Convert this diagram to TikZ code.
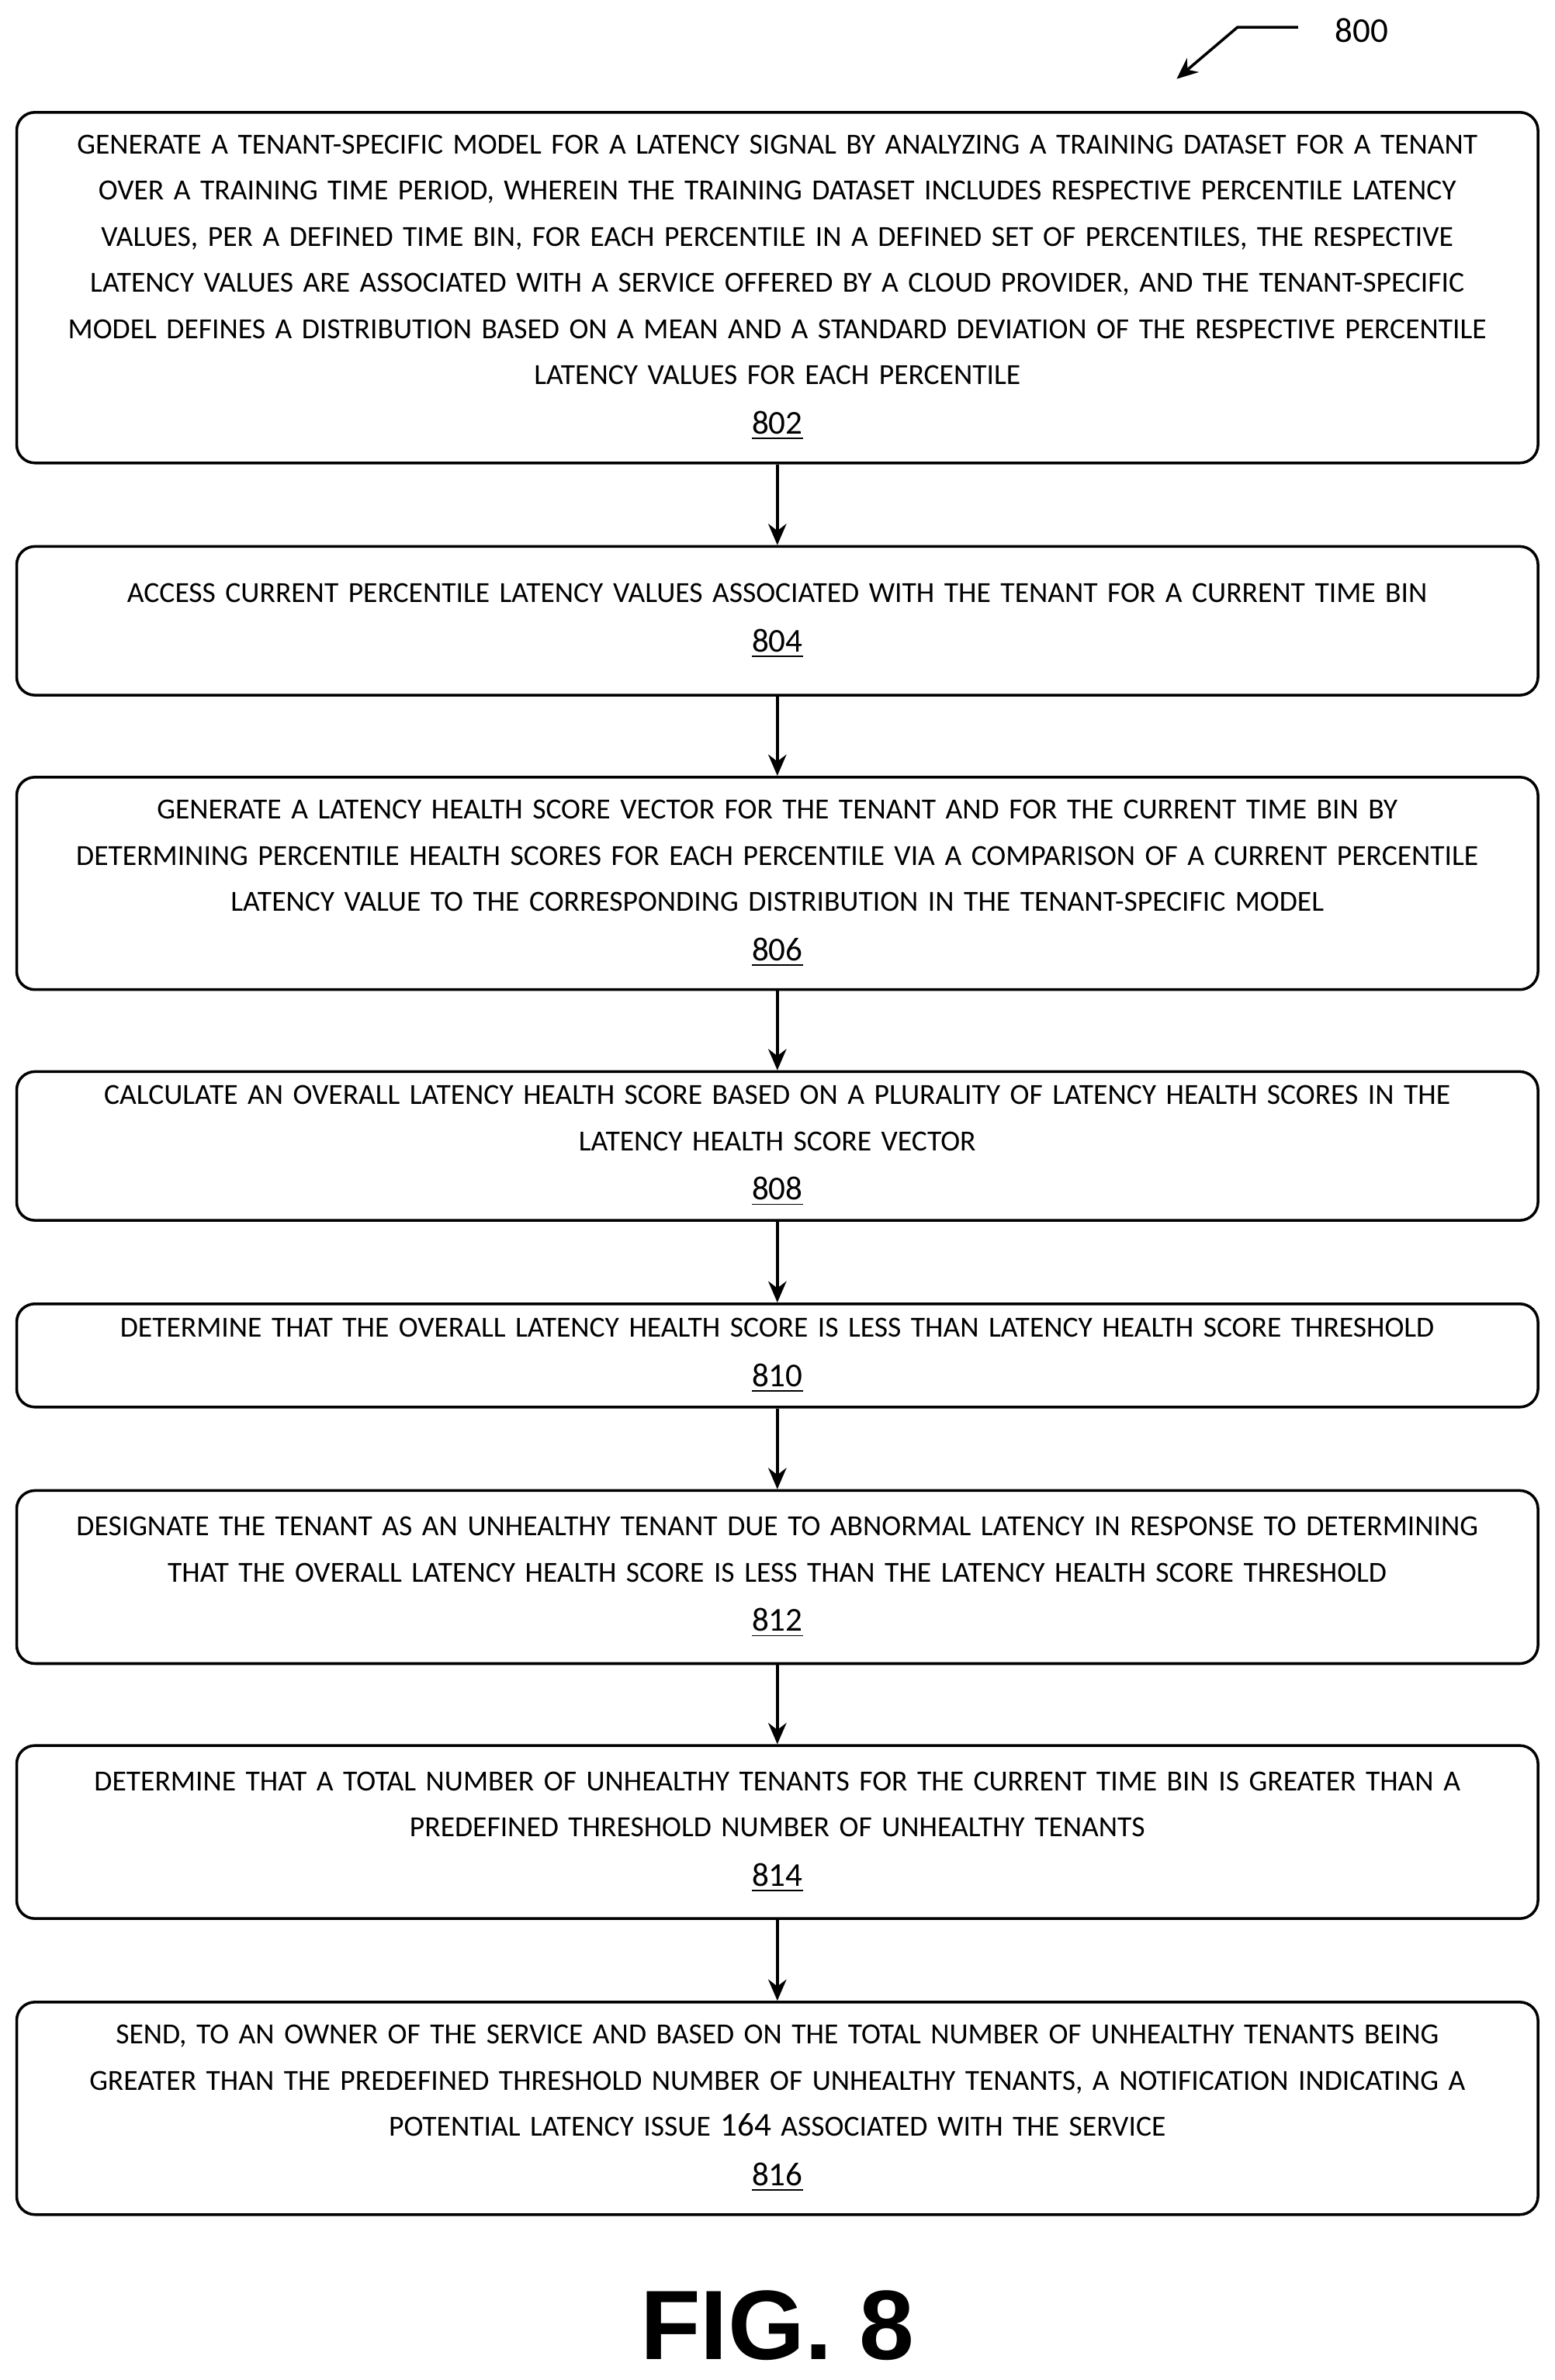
\documentclass[tikz,border=0pt]{standalone}
\usepackage{fontspec}
\setmainfont{Carlito}
\newfontfamily\figfont{Liberation Sans}
\usetikzlibrary{arrows.meta}
\newcommand{\lbl}[1]{\\[1pt]{\fontsize{11}{15}\selectfont\underline{#1}}}
\begin{document}
\begin{tikzpicture}[x=0.5pt,y=-0.5pt,
 box/.style={draw,line width=0.9pt,rounded corners=6pt,minimum width=501pt,text width=500pt,align=center,inner sep=0pt,font=\fontsize{9.6}{15.2}\selectfont},
 arr/.style={-{Stealth[length=7pt,width=6pt]},line width=0.9pt}]
\useasboundingbox (0,0) rectangle (1024,1568);
\node[box,minimum height=115.5pt] (b802) at (512,189.5) {GENERATE A TENANT-SPECIFIC MODEL FOR A LATENCY SIGNAL BY ANALYZING A TRAINING DATASET FOR A TENANT\\OVER A TRAINING TIME PERIOD, WHEREIN THE TRAINING DATASET INCLUDES RESPECTIVE PERCENTILE LATENCY\\VALUES, PER A DEFINED TIME BIN, FOR EACH PERCENTILE IN A DEFINED SET OF PERCENTILES, THE RESPECTIVE\\LATENCY VALUES ARE ASSOCIATED WITH A SERVICE OFFERED BY A CLOUD PROVIDER, AND THE TENANT-SPECIFIC\\MODEL DEFINES A DISTRIBUTION BASED ON A MEAN AND A STANDARD DEVIATION OF THE RESPECTIVE PERCENTILE\\LATENCY VALUES FOR EACH PERCENTILE\lbl{802}};
\node[box,minimum height=49pt] (b804) at (512,409) {ACCESS CURRENT PERCENTILE LATENCY VALUES ASSOCIATED WITH THE TENANT FOR A CURRENT TIME BIN\lbl{804}};
\node[box,minimum height=70pt] (b806) at (512,582) {GENERATE A LATENCY HEALTH SCORE VECTOR FOR THE TENANT AND FOR THE CURRENT TIME BIN BY\\DETERMINING PERCENTILE HEALTH SCORES FOR EACH PERCENTILE VIA A COMPARISON OF A CURRENT PERCENTILE\\LATENCY VALUE TO THE CORRESPONDING DISTRIBUTION IN THE TENANT-SPECIFIC MODEL\lbl{806}};
\node[box,minimum height=49pt] (b808) at (512,755) {CALCULATE AN OVERALL LATENCY HEALTH SCORE BASED ON A PLURALITY OF LATENCY HEALTH SCORES IN THE\\LATENCY HEALTH SCORE VECTOR\lbl{808}};
\node[box,minimum height=34pt] (b810) at (512,893) {DETERMINE THAT THE OVERALL LATENCY HEALTH SCORE IS LESS THAN LATENCY HEALTH SCORE THRESHOLD\lbl{810}};
\node[box,minimum height=57pt] (b812) at (512,1039) {DESIGNATE THE TENANT AS AN UNHEALTHY TENANT DUE TO ABNORMAL LATENCY IN RESPONSE TO DETERMINING\\THAT THE OVERALL LATENCY HEALTH SCORE IS LESS THAN THE LATENCY HEALTH SCORE THRESHOLD\lbl{812}};
\node[box,minimum height=57pt] (b814) at (512,1207) {DETERMINE THAT A TOTAL NUMBER OF UNHEALTHY TENANTS FOR THE CURRENT TIME BIN IS GREATER THAN A\\PREDEFINED THRESHOLD NUMBER OF UNHEALTHY TENANTS\lbl{814}};
\node[box,minimum height=70pt] (b816) at (512,1389) {SEND, TO AN OWNER OF THE SERVICE AND BASED ON THE TOTAL NUMBER OF UNHEALTHY TENANTS BEING\\GREATER THAN THE PREDEFINED THRESHOLD NUMBER OF UNHEALTHY TENANTS, A NOTIFICATION INDICATING A\\POTENTIAL LATENCY ISSUE {\fontsize{11}{15}\selectfont 164} ASSOCIATED WITH THE SERVICE\lbl{816}};
\foreach \a/\b in {b802/b804,b804/b806,b806/b808,b808/b810,b810/b812,b812/b814,b814/b816}
 \draw[arr] (\a) -- (\b);
\node[font=\fontsize{11.5}{13}\selectfont] (n800) at (897,20) {800};
\coordinate (c1) at (855,18);
\coordinate (c2) at (815,18);
\coordinate (c3) at (775,52);
\draw[-{Stealth[length=7pt,width=6pt]},line width=0.9pt] (c1) -- (c2) -- (c3);
\node[font=\figfont\bfseries\fontsize{32.5}{34}\selectfont] (fig) at (512,1532) {FIG. 8};
\end{tikzpicture}
\end{document}
